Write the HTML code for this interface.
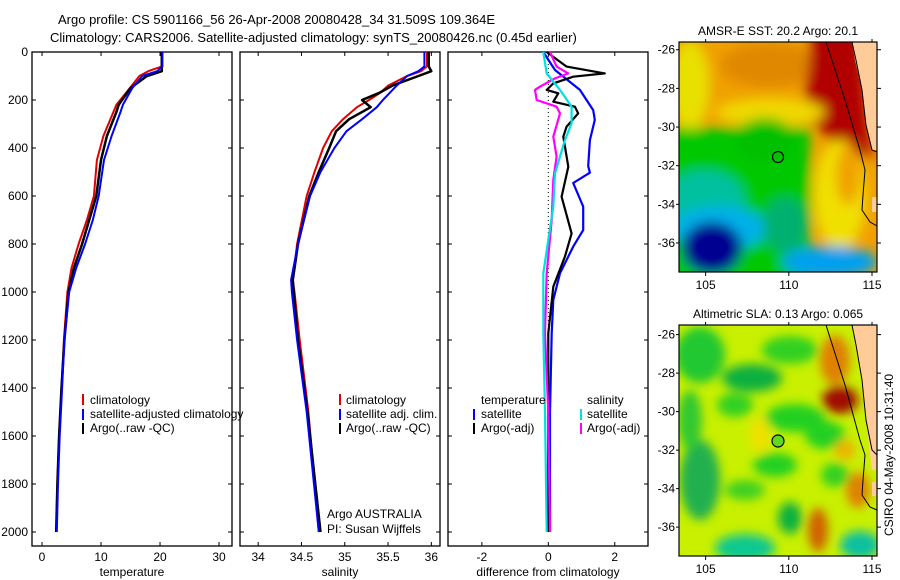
<!DOCTYPE html>
<html><head><meta charset="utf-8"><style>
body{margin:0;background:#fff;}
svg{display:block;font-family:"Liberation Sans",sans-serif;}
</style></head><body>
<svg id="fig" width="900" height="580" viewBox="0 0 900 580" xmlns="http://www.w3.org/2000/svg">
<defs>
<filter id="blur1" x="-20%" y="-20%" width="140%" height="140%"><feGaussianBlur stdDeviation="6"/></filter>
<filter id="blur2" x="-20%" y="-20%" width="140%" height="140%"><feGaussianBlur stdDeviation="5"/></filter>
<clipPath id="clipm1"><rect x="679" y="42" width="198" height="230"/></clipPath>
<clipPath id="clipm2"><rect x="679" y="325" width="198" height="231"/></clipPath>
</defs>
<text x="58" y="24" font-size="13">Argo profile: CS 5901166_56 26-Apr-2008 20080428_34 31.509S 109.364E</text>
<text x="50" y="42" font-size="13">Climatology: CARS2006. Satellite-adjusted climatology: synTS_20080426.nc (0.45d earlier)</text>

<!-- SST map -->
<g>
<g clip-path="url(#clipm1)">
<rect x="679" y="42" width="198" height="230" fill="#f0a000"/>
<g filter="url(#blur1)">
<ellipse cx="690" cy="85" rx="20" ry="45" fill="#e8e000"/>
<ellipse cx="770" cy="65" rx="50" ry="22" fill="#e08800"/>
<polygon points="812,30 860,30 872,160 840,150 815,125 805,95" fill="#b00000"/>
<ellipse cx="770" cy="112" rx="55" ry="14" fill="#f0d800"/>
<rect x="660" y="128" width="150" height="160" fill="#00c800"/>
<ellipse cx="765" cy="140" rx="30" ry="22" fill="#00c000"/>
<ellipse cx="840" cy="195" rx="26" ry="55" fill="#f0e000"/>
<ellipse cx="848" cy="175" rx="12" ry="30" fill="#f0a000"/>
<ellipse cx="705" cy="200" rx="40" ry="30" fill="#00c0a0"/>
<ellipse cx="720" cy="228" rx="48" ry="22" fill="#00b0e8"/>
<ellipse cx="712" cy="248" rx="30" ry="26" fill="#000090"/>
<ellipse cx="830" cy="262" rx="48" ry="16" fill="#00a0f0"/>
<ellipse cx="785" cy="225" rx="22" ry="28" fill="#00b070"/>
</g>
<polygon points="852,42 877,42 877,150 872,150 866,125 862,90 855,60" fill="#ffcc99"/>
<polygon points="872,197 877,197 877,212 872,212" fill="#ffcc99"/>
<polyline points="826,42 845,100 860,150 865,170 863,195 862,210 870,222 877,226" fill="none" stroke="#000" stroke-width="1"/>
<polyline points="852,42 856,60 862,90 866,125 872,150 877,152" fill="none" stroke="#000" stroke-width="1"/>
<circle cx="778" cy="157" r="5.5" fill="none" stroke="#000" stroke-width="1.2"/>
</g>
<rect x="679" y="42" width="198" height="230" fill="none" stroke="#000" stroke-width="1.2"/>
</g>
<text x="778" y="35" font-size="12" text-anchor="middle">AMSR-E SST: 20.2  Argo: 20.1</text>

<!-- SLA map -->
<g>
<g clip-path="url(#clipm2)">
<rect x="679" y="325" width="198" height="231" fill="#c8f000"/>
<g filter="url(#blur2)">
<ellipse cx="700" cy="355" rx="25" ry="28" fill="#20c830"/>
<ellipse cx="752" cy="378" rx="30" ry="14" fill="#10b040"/>
<ellipse cx="790" cy="350" rx="28" ry="14" fill="#30d020"/>
<ellipse cx="735" cy="405" rx="18" ry="12" fill="#30d020"/>
<ellipse cx="700" cy="480" rx="20" ry="40" fill="#20b050"/>
<ellipse cx="690" cy="420" rx="12" ry="30" fill="#30c830"/>
<ellipse cx="795" cy="418" rx="30" ry="14" fill="#20d020"/>
<ellipse cx="825" cy="435" rx="20" ry="14" fill="#20d020"/>
<ellipse cx="775" cy="465" rx="22" ry="12" fill="#20d020"/>
<ellipse cx="745" cy="490" rx="20" ry="10" fill="#40d020"/>
<ellipse cx="835" cy="475" rx="14" ry="12" fill="#30d020"/>
<ellipse cx="790" cy="518" rx="12" ry="16" fill="#10b040"/>
<ellipse cx="745" cy="548" rx="30" ry="14" fill="#10c890"/>
<ellipse cx="860" cy="545" rx="20" ry="14" fill="#10c0a0"/>
<ellipse cx="835" cy="360" rx="15" ry="25" fill="#e08000"/>
<ellipse cx="840" cy="400" rx="18" ry="14" fill="#a01000"/>
<ellipse cx="818" cy="530" rx="10" ry="22" fill="#d06000"/>
<ellipse cx="858" cy="490" rx="12" ry="18" fill="#e08000"/>
<ellipse cx="845" cy="450" rx="10" ry="10" fill="#f0b000"/>
<ellipse cx="760" cy="435" rx="10" ry="18" fill="#f0e000"/>
</g>
<polygon points="852,325 877,325 877,470 872,470 866,420 862,380 855,345" fill="#ffcc99"/>
<polygon points="872,482 877,482 877,496 872,496" fill="#ffcc99"/>
<polyline points="826,325 845,385 860,440 865,455 863,480 862,495 870,507 877,510" fill="none" stroke="#000" stroke-width="1"/>
<polyline points="852,325 856,345 862,380 866,420 872,450 877,455" fill="none" stroke="#000" stroke-width="1"/>
<circle cx="778" cy="441" r="6" fill="#60d820" stroke="#000" stroke-width="1.2"/>
</g>
<rect x="679" y="325" width="198" height="231" fill="none" stroke="#000" stroke-width="1.2"/>
</g>
<text x="778" y="318" font-size="12" text-anchor="middle">Altimetric SLA: 0.13  Argo: 0.065</text>
<text transform="translate(893,455) rotate(-90)" font-size="12" text-anchor="middle">CSIRO 04-May-2008 10:31:40</text>

<g id="axes"></g>
<g id="legends" font-size="12">
<rect x="82" y="394" width="2" height="11" fill="#e00000"/><text x="90" y="404">climatology</text>
<rect x="82" y="409" width="2" height="11" fill="#0000ff"/><text x="90" y="418">satellite-adjusted climatology</text>
<rect x="82" y="423" width="2" height="11" fill="#000"/><text x="90" y="432">Argo(..raw -QC)</text>
<rect x="339" y="394" width="2" height="11" fill="#e00000"/><text x="346" y="404">climatology</text>
<rect x="339" y="409" width="2" height="11" fill="#0000ff"/><text x="346" y="418">satellite adj. clim.</text>
<rect x="339" y="423" width="2" height="11" fill="#000"/><text x="346" y="432">Argo(..raw -QC)</text>
<text x="481" y="404">temperature</text>
<rect x="473" y="409" width="2" height="11" fill="#0000ff"/><text x="481" y="418">satellite</text>
<rect x="473" y="423" width="2" height="11" fill="#000"/><text x="481" y="432">Argo(-adj)</text>
<text x="587" y="404">salinity</text>
<rect x="580" y="409" width="2" height="11" fill="#00e0e0"/><text x="587" y="418">satellite</text>
<rect x="580" y="423" width="2" height="11" fill="#ff00ff"/><text x="587" y="432">Argo(-adj)</text>
<text x="327" y="518">Argo AUSTRALIA</text>
<text x="327" y="533">PI: Susan Wijffels</text>
</g>
</svg>
<script>
// depth levels (m)
const tDepth = [0,60,80,100,150,220,250,350,450,600,700,800,900,1000,1200,1400,1600,1800,2000];
const tempClim = [20.3,20.3,18.0,16.5,14.9,12.6,12.1,10.4,9.3,8.8,7.6,6.2,5.0,4.3,3.7,3.3,2.9,2.6,2.4];
const tempSat  = [20.4,20.4,19.5,17.0,15.3,13.7,13.3,11.8,10.5,9.6,8.6,7.3,5.8,4.6,3.8,3.4,3.0,2.7,2.5];
const tempArgo = [20.3,20.3,20.3,17.8,15.0,13.0,12.6,11.0,10.0,9.2,8.0,6.8,5.4,4.5,3.8,3.3,2.9,2.6,2.4];
const sDepth = [0,60,80,100,140,170,200,230,280,330,400,500,600,800,950,1000,1200,1500,2000];
const salClim = [35.95,35.95,35.88,35.72,35.50,35.41,35.28,35.14,34.98,34.85,34.75,34.65,34.56,34.45,34.40,34.42,34.48,34.58,34.70];
const salSat  = [35.92,35.92,35.85,35.72,35.60,35.52,35.44,35.37,35.20,35.02,34.88,34.72,34.60,34.46,34.38,34.39,34.45,34.56,34.70];
const salArgo = [35.97,35.97,36.00,35.85,35.55,35.40,35.20,35.30,35.05,34.90,34.82,34.70,34.59,34.46,34.40,34.41,34.46,34.57,34.72];
const dDepthT = [0,61,89,103,131,158,172,207,228,256,311,353,478,603,756,853,978,1172,1500,2000];
const diffTempArgo = [-0.05,0.55,1.7,0.75,0.15,-0.05,0.3,0.15,0.8,0.9,0.55,0.45,0.6,0.4,0.7,0.5,0.15,0.0,0.0,0.0];
const dDepthS = [0,75,158,242,283,367,475,503,546,644,742,811,922,1033,1172,1500,2000];
const diffTempSat = [-0.15,0.2,0.95,1.35,1.4,1.25,1.2,1.25,0.75,1.05,1.05,0.75,0.35,0.15,0.1,0.05,0.05];
const dDepthM = [0,61,89,110,144,158,200,228,256,353,436,533,700,922,1172,1500,2000];
const diffSalArgo = [0.05,0.25,0.6,0.2,-0.25,-0.4,-0.35,0.25,0.35,0.15,0.25,0.15,0.1,-0.05,-0.1,0.0,0.05];
const dDepthC = [0,89,158,228,297,367,506,644,783,922,1172,1500,2000];
const diffSalSat = [-0.15,-0.05,0.35,0.7,0.7,0.5,0.2,0.15,0.0,-0.15,-0.15,-0.1,-0.05];
const depthTicks = [0,200,400,600,800,1000,1200,1400,1600,1800,2000];
const tempTicks = [0,10,20,30];
const salTicks = [34,34.5,35,35.5,36];
const diffTicks = [-2,0,2];
const latTicks = [-26,-28,-30,-32,-34,-36];
const lonTicks = [105,110,115];

const NS='http://www.w3.org/2000/svg';
const axes=document.getElementById('axes');
const yD = d => 52 + d*0.24;
function el(tag, attrs, parent){const e=document.createElementNS(NS,tag);for(const k in attrs)e.setAttribute(k,attrs[k]);(parent||axes).appendChild(e);return e;}

const panels=[
 {x0:32,x1:232,v0:-1.7,v1:32.2,ticks:tempTicks,title:'temperature',name:'temperature-panel',ylabels:true},
 {x0:240,x1:440,v0:33.79,v1:36.1,ticks:salTicks,title:'salinity',name:'salinity-panel',ylabels:false},
 {x0:448,x1:648,v0:-3.02,v1:3.0,ticks:diffTicks,title:'difference from climatology',name:'difference-panel',ylabels:false}
];
panels.forEach(p=>{
  p.sx = v => p.x0 + (v-p.v0)/(p.v1-p.v0)*(p.x1-p.x0);
  const g=el('g',{});
  
  
  el('rect',{x:p.x0,y:52,width:p.x1-p.x0,height:494,fill:'none',stroke:'#000','stroke-width':1.3},g);
  depthTicks.forEach(d=>{
    el('line',{x1:p.x0,x2:p.x0+4,y1:yD(d),y2:yD(d),stroke:'#000'},g);
    el('line',{x1:p.x1,x2:p.x1-4,y1:yD(d),y2:yD(d),stroke:'#000'},g);
    if(p.ylabels){const t=el('text',{x:p.x0-4,y:yD(d)+4,'font-size':12,'text-anchor':'end'},g);t.textContent=d;
      
      }
  });
  p.ticks.forEach(v=>{
    const x=p.sx(v);
    el('line',{x1:x,x2:x,y1:52,y2:56,stroke:'#000'},g);
    el('line',{x1:x,x2:x,y1:546,y2:542,stroke:'#000'},g);
    const t=el('text',{x:x,y:561,'font-size':12,'text-anchor':'middle'},g);t.textContent=v;
    
    
  });
  const tt=el('text',{x:(p.x0+p.x1)/2,y:576,'font-size':12,'text-anchor':'middle'},g);tt.textContent=p.title;
  
  
});
function line(p,depths,vals,color,w,name,dash){
  const pts=depths.map((d,i)=>p.sx(vals[i]).toFixed(1)+','+yD(d).toFixed(1)).join(' ');
  const l=el('polyline',{points:pts,fill:'none',stroke:color,'stroke-width':w,'stroke-linejoin':'round'});
  if(dash)l.setAttribute('stroke-dasharray',dash);
  
  
}
line(panels[0],tDepth,tempClim,'#e00000',2,'temp-climatology-line');
line(panels[0],tDepth,tempArgo,'#000',2.5,'temp-argo-line');
line(panels[0],tDepth,tempSat,'#0000ff',2,'temp-satellite-line');
line(panels[1],sDepth,salClim,'#e00000',2,'sal-climatology-line');
line(panels[1],sDepth,salArgo,'#000',2.5,'sal-argo-line');
line(panels[1],sDepth,salSat,'#0000ff',2,'sal-satellite-line');
line(panels[2],[0,2000],[0,0],'#000',1,'zero-reference-line','1,3');
line(panels[2],dDepthS,diffTempSat,'#0000ff',2.2,'diff-temp-satellite-line');
line(panels[2],dDepthT,diffTempArgo,'#000',2.2,'diff-temp-argo-line');
line(panels[2],dDepthM,diffSalArgo,'#ff00ff',2.2,'diff-sal-argo-line');
line(panels[2],dDepthC,diffSalSat,'#00e0e0',2.2,'diff-sal-satellite-line');

// map axes
const maps=[{x0:679,x1:877,y0:42,y1:272,latTop:-25.6,latBot:-37.5},{x0:679,x1:877,y0:325,y1:556,latTop:-25.5,latBot:-37.5}];
maps.forEach(m=>{
  const sx=lon=>m.x0+(lon-103.4)/(115.3-103.4)*(m.x1-m.x0);
  const sy=lat=>m.y0+(m.latTop-lat)/(m.latTop-m.latBot)*(m.y1-m.y0);
  latTicks.forEach(v=>{
    el('line',{x1:m.x1,x2:m.x1+4,y1:sy(v),y2:sy(v),stroke:'#000'});
    el('line',{x1:m.x0,x2:m.x0-3,y1:sy(v),y2:sy(v),stroke:'#000'});
    const t=el('text',{x:m.x0-4,y:sy(v)+4,'font-size':12,'text-anchor':'end'});t.textContent=v;
    
    
  });
  lonTicks.forEach(v=>{
    el('line',{x1:sx(v),x2:sx(v),y1:m.y1,y2:m.y1+4,stroke:'#000'});
    el('line',{x1:sx(v),x2:sx(v),y1:m.y0,y2:m.y0-3,stroke:'#000'});
    const t=el('text',{x:sx(v),y:m.y1+17,'font-size':12,'text-anchor':'middle'});t.textContent=v;
    
    
  });
});
</script>
</body></html>
